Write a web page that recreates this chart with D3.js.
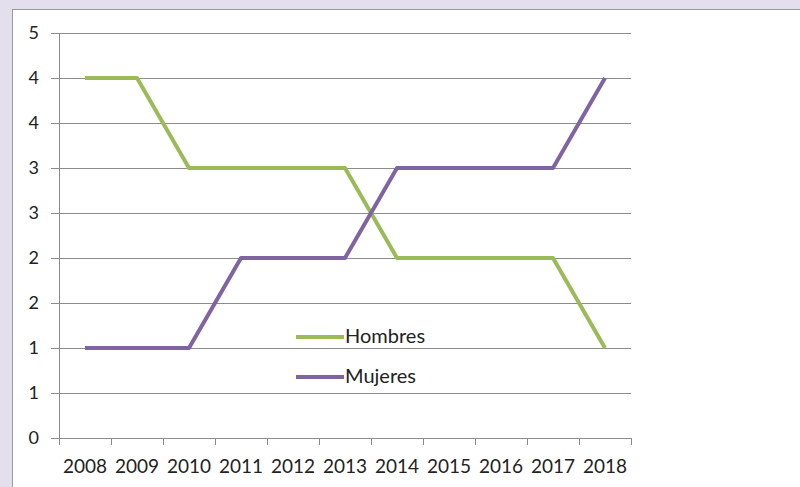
<!DOCTYPE html>
<html>
<head>
<meta charset="utf-8">
<script src="https://cdn.jsdelivr.net/npm/d3@7"></script>
<style>
  html, body { margin: 0; padding: 0; background: #e4dfec; overflow: hidden; }
  svg { display: block; }
</style>
</head>
<body>
<svg id="chart" width="800" height="487"></svg>
<script>
const years = ["2008","2009","2010","2011","2012","2013","2014","2015","2016","2017","2018"];
const hombres = [4, 4, 3, 3, 3, 3, 2, 2, 2, 2, 1];
const mujeres = [1, 1, 1, 2, 2, 2, 3, 3, 3, 3, 4];
const yTickValues = [0, 0.5, 1, 1.5, 2, 2.5, 3, 3.5, 4, 4.5];
const yTickLabels = ["0", "1", "1", "2", "2", "3", "3", "4", "4", "5"];
const seriesNames = ["Hombres", "Mujeres"];
const seriesColors = ["#9bbb59", "#8064a2"];

const svg = d3.select("#chart");
const font = "Lato, 'Open Sans', sans-serif";

// white chart area
svg.append("rect").attr("x", 12.5).attr("y", 9.5).attr("width", 800).attr("height", 500)
  .attr("fill", "#ffffff").attr("stroke", "#9a9a9a").attr("stroke-width", 1);

const x = d3.scaleBand().domain(years).range([59, 631]).padding(0);
const y = d3.scaleLinear().domain([0, 4.5]).range([438, 33]);

// gridlines
svg.append("g").selectAll("line").data(yTickValues).join("line")
  .attr("x1", 51).attr("x2", 631)
  .attr("y1", d => Math.round(y(d)) + 0.5).attr("y2", d => Math.round(y(d)) + 0.5)
  .attr("stroke", "#8c8c8c").attr("stroke-width", 1);

// y axis line
svg.append("line").attr("x1", 59.5).attr("x2", 59.5).attr("y1", 33).attr("y2", 438)
  .attr("stroke", "#8c8c8c");

// y labels
svg.append("g").selectAll("text").data(yTickValues).join("text")
  .attr("x", 39).attr("y", d => y(d))
  .attr("dy", "0.35em")
  .attr("text-anchor", "end")
  .attr("font-family", font).attr("font-size", 18).attr("fill", "#222222")
  .text((d, i) => yTickLabels[i]);

// x axis ticks at category boundaries
const boundaries = years.map(yr => x(yr)).concat([x(years[years.length - 1]) + x.bandwidth()]);
svg.append("g").selectAll("line").data(boundaries).join("line")
  .attr("x1", d => Math.round(d) + 0.5).attr("x2", d => Math.round(d) + 0.5)
  .attr("y1", 438).attr("y2", 445)
  .attr("stroke", "#8c8c8c");

// x labels
svg.append("g").selectAll("text").data(years).join("text")
  .attr("x", d => x(d) + x.bandwidth() / 2).attr("y", 473)
  .attr("text-anchor", "middle")
  .attr("font-family", font).attr("font-size", 19).attr("fill", "#222222")
  .text(d => d);

// lines
const line = d3.line()
  .x((d, i) => x(years[i]) + x.bandwidth() / 2)
  .y(d => y(d));

[hombres, mujeres].forEach((s, k) => {
  svg.append("path").datum(s)
    .attr("d", line)
    .attr("fill", "none")
    .attr("stroke", seriesColors[k])
    .attr("stroke-width", 4)
    .attr("stroke-linejoin", "round")
    .attr("stroke-linecap", "butt");
});

// legend
const legend = svg.append("g");
seriesNames.forEach((name, k) => {
  const ly = 337 + k * 40;
  legend.append("line").attr("x1", 296).attr("x2", 344).attr("y1", ly).attr("y2", ly)
    .attr("stroke", seriesColors[k]).attr("stroke-width", 4).attr("stroke-linecap", "butt");
  legend.append("text").attr("x", 345).attr("y", ly + 6)
    .attr("font-family", font).attr("font-size", 20).attr("fill", "#222222")
    .text(name);
});
</script>
</body>
</html>
